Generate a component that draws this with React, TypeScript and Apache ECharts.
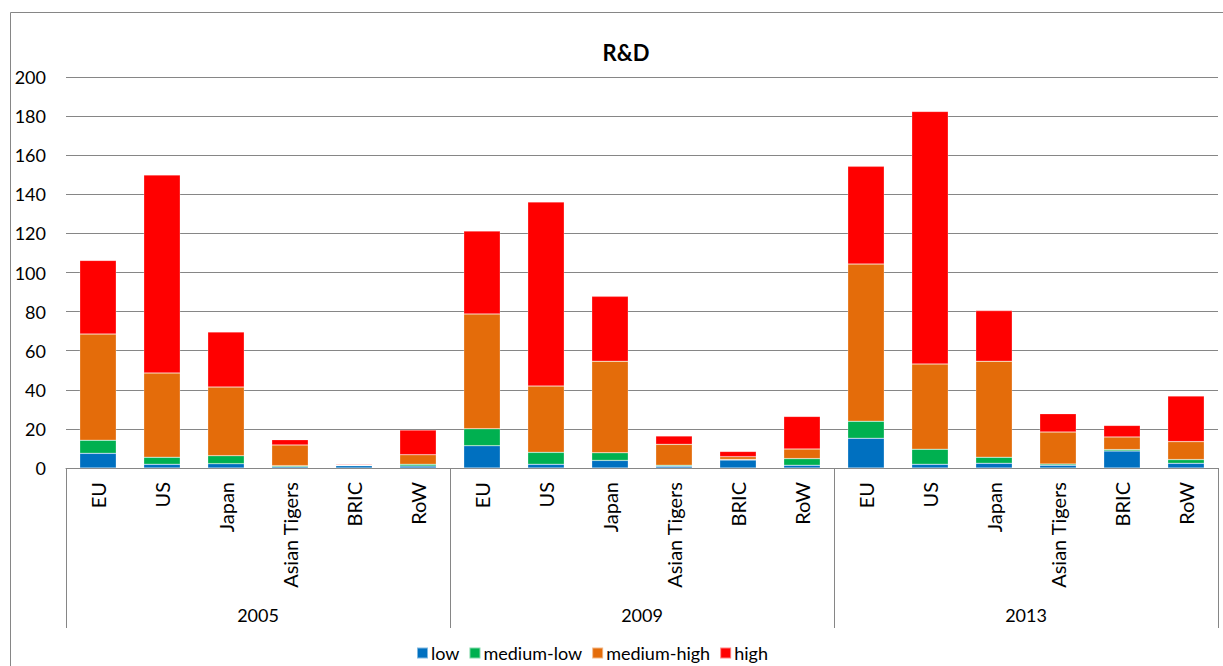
import React, { useEffect, useRef } from "react";
import * as echarts from "echarts";

const regions = ["EU", "US", "Japan", "Asian Tigers", "BRIC", "RoW"];
const years = ["2005", "2009", "2013"];
const categories = years.flatMap(() => regions);
const yTicks = [0, 20, 40, 60, 80, 100, 120, 140, 160, 180, 200];

const low = [7.5, 1.9, 2.2, 0.7, 1.2, 1.0, 11.4, 1.9, 3.9, 0.9, 4.1, 1.4, 15.2, 1.9, 2.4, 1.4, 8.7, 2.4];
const mediumLow = [6.7, 3.6, 4.1, 0.5, 0.1, 0.9, 8.7, 6.1, 3.9, 0.5, 0.3, 3.4, 8.7, 7.7, 3.1, 0.6, 0.7, 1.9];
const mediumHigh = [54.3, 43.1, 35.1, 10.6, 0.2, 4.9, 58.7, 33.9, 46.8, 10.7, 1.4, 4.9, 80.4, 43.6, 49.1, 16.4, 6.5, 9.2];
const high = [37.7, 101.3, 28.2, 2.7, 0.4, 12.6, 42.4, 94.2, 33.2, 4.3, 2.7, 16.7, 50.0, 129.2, 25.9, 9.4, 5.9, 23.3];

const seriesNames = ["low", "medium-low", "medium-high", "high"];
const seriesData = [low, mediumLow, mediumHigh, high];
const colors = ["#0070C0", "#00B050", "#E46C0A", "#FF0000"];

const FONT = "Lato, 'Open Sans', sans-serif";

export default function App() {
  const ref = useRef<HTMLDivElement>(null);
  useEffect(() => {
    if (!ref.current) return;
    const chart = echarts.init(ref.current, undefined, { renderer: "svg" });
    chart.setOption({
      animation: false,
      backgroundColor: "#fff",
      textStyle: { fontFamily: FONT },
      title: {
        text: "R&D",
        left: 621,
        textAlign: "center",
        top: 36,
        textStyle: { fontSize: 22, fontWeight: "bold", color: "#000", fontFamily: FONT },
      },
      legend: {
        bottom: -1,
        left: 411,
        itemWidth: 11,
        itemHeight: 11,
        itemGap: 9,
        icon: "rect",
        textStyle: { fontSize: 18, color: "#000", fontFamily: FONT, padding: [0, 0, 0, -2] },
        data: seriesNames,
      },
      graphic: [
        {
          type: "rect",
          shape: { x: 10.5, y: 12.5, width: 1240, height: 700 },
          style: { fill: "none", stroke: "#868686", lineWidth: 1 },
          silent: true,
          z: -10,
        },
      ],
      grid: { left: 66, right: 5, top: 77, bottom: 198, containLabel: false },
      xAxis: [
        {
          type: "category",
          data: categories,
          position: "bottom",
          axisLine: { show: true, lineStyle: { color: "#868686", width: 1 } },
          axisTick: { show: false },
          axisLabel: {
            rotate: 90,
            margin: 14,
            fontSize: 20,
            color: "#000",
            fontFamily: FONT,
            interval: 0,
          },
        },
        {
          type: "category",
          data: years,
          position: "bottom",
          axisLine: { show: false },
          axisTick: { show: true, length: 160, lineStyle: { color: "#868686", width: 1 } },
          axisLabel: { margin: 138, fontSize: 18, color: "#000", fontFamily: FONT },
          splitLine: { show: false },
        },
      ],
      yAxis: {
        type: "value",
        min: 0,
        max: 200,
        interval: 20,
        axisLine: { show: false },
        axisTick: { show: false },
        axisLabel: {
          margin: 20,
          fontSize: 18,
          color: "#000",
          fontFamily: FONT,
          formatter: (v: number) => (yTicks.includes(v) ? String(v) : ""),
        },
        splitLine: { lineStyle: { color: "#868686", width: 1 } },
      },
      series: seriesNames.map((name, i) => ({
        name,
        type: "bar",
        stack: "total",
        xAxisIndex: 0,
        data: seriesData[i],
        barWidth: "57%",
        itemStyle: { color: colors[i], borderColor: "rgba(255,255,255,0.5)", borderWidth: 0.5 },
      })),
    });
    return () => chart.dispose();
  }, []);
  return (
    <div
      ref={ref}
      style={{ position: "absolute", left: 0, top: 0, width: 1223, height: 666 }}
    />
  );
}
